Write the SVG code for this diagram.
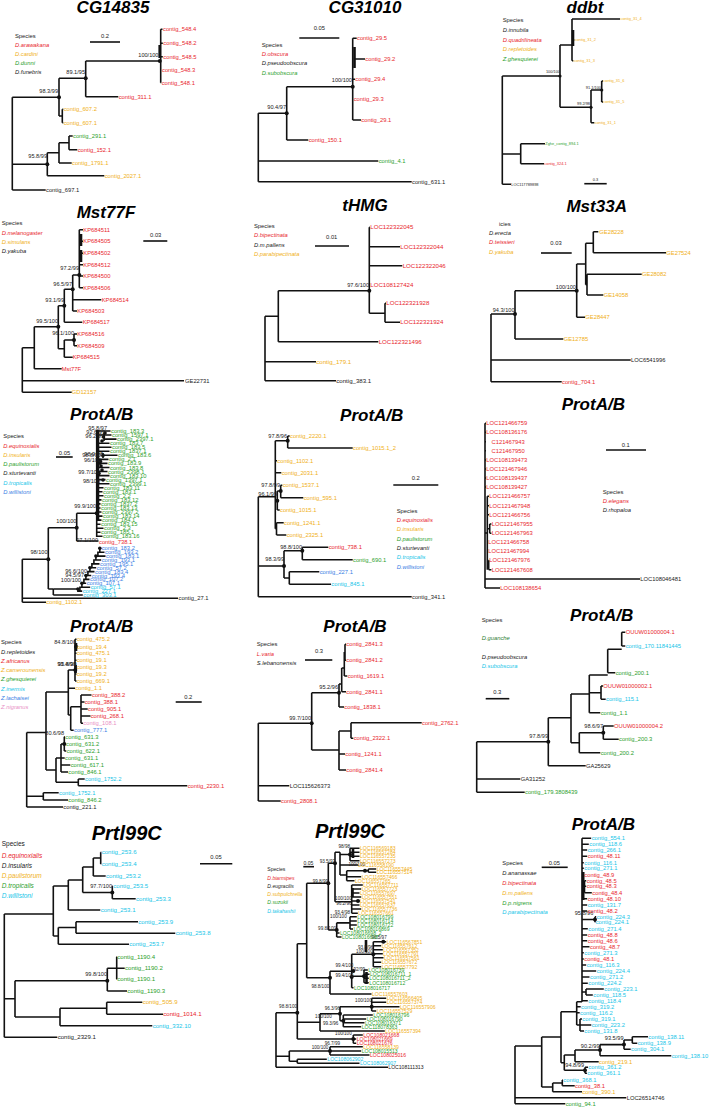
<svg xmlns="http://www.w3.org/2000/svg" width="710" height="1107" viewBox="0 0 710 1107">
<style>
text{font-family:"Liberation Sans",Arial,sans-serif;fill:#222}
.T{font-size:17px;font-weight:bold;font-style:italic;text-anchor:middle;fill:#000}
.T2{font-size:20px;font-weight:bold;font-style:italic;text-anchor:middle;fill:#000}
.L{font-size:5.8px}
.L6{font-size:6.1px}
.S{font-size:5.8px;font-style:italic}
.S6{font-size:6.5px;font-style:italic}
.H6{font-size:6.5px}
.n{font-size:5.6px;text-anchor:end}
.xs{font-size:3.9px}
.xn{font-size:3.9px;text-anchor:end}
.m{font-size:5.1px}
.mn{font-size:4.6px;text-anchor:end}
.sc{font-size:5.8px;text-anchor:middle}
.r{fill:#e8262d}.o{fill:#f0b020}.g{fill:#2ca02c}.c{fill:#17c5e8}.b{fill:#3a7ee4}.p{fill:#e98fc5}.k{fill:#222}.dg{fill:#2e7d32}
.e{fill:none;stroke:#111;stroke-width:1.6}
.th{fill:none;stroke:#111;stroke-width:2.6}
circle{fill:#111}
</style>

<!-- ===== Panel 1: CG14835 ===== -->
<g id="cg14835">
<text class="T" x="113" y="13">CG14835</text>
<text class="L" x="15" y="37.7">Species</text>
<text class="S r" x="15" y="46.7">D.arawakana</text>
<text class="S o" x="15" y="55.7">D.cardini</text>
<text class="S g" x="15" y="64.7">D.dunni</text>
<text class="S k" x="15" y="73.7">D.funebris</text>
<text class="sc" x="105" y="37.7">0.2</text>
<path class="e" d="M90 42H120"/>
<g class="conn">
<path class="e" d="M12.3 97.3V190M12.3 97.3H59M12.3 164.3H47.3M12.3 190H45.7M59 78.3V116M59 78.3H85.7M59 116H62.3M62.3 109.3V122.7M62.3 109.3H63.3M62.3 122.7H63.3M85.7 61V96.7M85.7 61H159.3M85.7 96.7H118.3M160.7 29.3V82.7M159.3 61H160.7M160.7 29.3H162.5M160.7 43.3H162.8M160.7 56.7H162.8M160.7 70H161.5M160.7 82.7H161.2M47.3 152.7V175.7M47.3 152.7H59M47.3 175.7H104.3M59 142.7V163M59 142.7H69M59 163H71.7M69 136V149.7M69 136H72.7M69 149.7H77.3"/>
<path class="th" d="M159.7 45V58"/>
<circle cx="59" cy="97.3" r="2"/><circle cx="85.7" cy="78.3" r="2"/><circle cx="159.8" cy="61" r="2"/><circle cx="47.3" cy="164.3" r="2"/>
</g>
<text class="n" x="158.5" y="57">100/100</text>
<text class="n" x="85" y="73.7">89.1/95</text>
<text class="n" x="58" y="92.7">98.3/99</text>
<text class="n" x="47" y="158">95.8/99</text>
<text class="L r" x="163" y="31.3">contig_548.4</text>
<text class="L r" x="163.3" y="45.3">contig_548.2</text>
<text class="L r" x="163.3" y="58.7">contig_548.5</text>
<text class="L r" x="162" y="72">contig_548.3</text>
<text class="L r" x="161.7" y="84.7">contig_548.1</text>
<text class="L r" x="118.7" y="98.7">contig_311.1</text>
<text class="L o" x="63.7" y="111.3">contig_607.2</text>
<text class="L o" x="63.7" y="124.7">contig_607.1</text>
<text class="L g" x="73" y="138">contig_291.1</text>
<text class="L r" x="77.7" y="151.7">contig_152.1</text>
<text class="L o" x="72" y="165">contig_1791.1</text>
<text class="L o" x="104.7" y="177.7">contig_2027.1</text>
<text class="L k" x="46" y="192">contig_697.1</text>
</g>

<!-- ===== Panel 2: CG31010 ===== -->
<g id="cg31010">
<text class="T" x="365" y="13">CG31010</text>
<text class="sc" x="319.3" y="30.3">0.05</text>
<path class="e" d="M299.3 38H339.3"/>
<text class="L" x="261.7" y="46.7">Species</text>
<text class="S r" x="261.7" y="56.3">D.obscura</text>
<text class="S k" x="261.7" y="65.3">D.pseudoobscura</text>
<text class="S g" x="261.7" y="74.7">D.subobscura</text>
<g class="conn">
<path class="e" d="M258.3 113.3V181.7M258.3 113.3H286.7M258.3 161H378.3M258.3 181.7H411.7M286.7 86.7V140M286.7 86.7H352.7M286.7 140H308.3M352.7 38.3V120M352.7 38.3H356.7M354 59H365M352.7 79.3H355M352.7 99.3H353.3M352.7 120H361"/>
<path class="th" d="M354.5 47V68"/>
<circle cx="286.7" cy="113.3" r="2"/><circle cx="352.7" cy="86.7" r="2"/>
</g>
<text class="n" x="352" y="82">100/100</text>
<text class="n" x="286" y="108.7">90.4/97</text>
<text class="L r" x="357" y="40.3">contig_29.5</text>
<text class="L r" x="365.3" y="61">contig_29.2</text>
<text class="L r" x="355.3" y="81.3">contig_29.4</text>
<text class="L r" x="353.7" y="101.3">contig_29.3</text>
<text class="L r" x="361.3" y="122">contig_29.1</text>
<text class="L r" x="308.7" y="142">contig_150.1</text>
<text class="L g" x="378.7" y="163">contig_4.1</text>
<text class="L k" x="412" y="183.7">contig_631.1</text>
</g>

<!-- ===== Panel 3: ddbt ===== -->
<g id="ddbt">
<text class="T" x="585" y="13">ddbt</text>
<text class="L" x="502.7" y="22">Species</text>
<text class="S k" x="502.7" y="32">D.innubila</text>
<text class="S r" x="502.7" y="42">D.quadrilineata</text>
<text class="S o" x="502.7" y="51.3">D.repletoides</text>
<text class="S g" x="502.7" y="61.3">Z.ghesquierei</text>
<g class="conn">
<path class="e" d="M502.3 76V184.3M502.3 76H560M502.3 154H520.7M502.3 184.3H511M560 45V107.3M560 45H572M560 107.3H591M572 19V60.7M572 19H620M572 40H574.3M572 60.7H573.3M591 90V122.7M591 90H601.7M591 122.7H594.3M601.7 81V102M601.7 81H603M601.7 102H603M520.7 143.7V163.7M520.7 143.7H545M520.7 163.7H544"/>
<path class="th" d="M573 30V46"/>
<circle cx="560" cy="76" r="1.6"/><circle cx="591" cy="107.3" r="1.6"/><circle cx="601.7" cy="90" r="1.6"/>
</g>
<text class="xn" x="560" y="73">100/100</text>
<text class="xn" x="590" y="104.5">99.2/98</text>
<text class="xn" x="601" y="88.5">91.1/100</text>
<text class="xs o" x="620.5" y="20.3">contig_31_4</text>
<text class="xs o" x="574.7" y="41.3">contig_31_2</text>
<text class="xs o" x="573.7" y="62">contig_31_3</text>
<text class="xs o" x="603.3" y="82.3">contig_31_6</text>
<text class="xs o" x="603.3" y="103.3">contig_31_5</text>
<text class="xs o" x="594.7" y="124">contig_31_1</text>
<text class="xs g" x="545.3" y="145">Zghe_contig_894.1</text>
<text class="xs r" x="544.3" y="165">contig_324.1</text>
<text class="xs k" x="511.3" y="185.7">LOC117789898</text>
<text class="xs" x="595.5" y="181.3" text-anchor="middle">0.3</text>
<path class="e" d="M584.3 183.7H606.7"/>
</g>

<!-- ===== Panel 4: Mst77F ===== -->
<g id="mst77f">
<text class="T" x="106" y="218">Mst77F</text>
<text class="L" x="1.7" y="225.3">Species</text>
<text class="S r" x="1.7" y="234.7">D.melanogaster</text>
<text class="S o" x="1.7" y="243.7">D.simulans</text>
<text class="S k" x="1.7" y="253">D.yakuba</text>
<text class="sc" x="155.7" y="237">0.03</text>
<path class="e" d="M143.3 241H167.3"/>
<g class="conn">
<path class="e" d="M22.3 347.7V392.3M22.3 347.7H34.3M22.3 380.7H184M22.3 392.3H71.7M34.3 326.7V368.7M34.3 326.7H58.3M34.3 368.7H61.7M58.3 305.7V348.7M58.3 305.7H64.3M58.3 348.7H64.3M64.3 340V357.3M64.3 340H74M64.3 357.3H72.7M74 334V345.7M74 334H77M74 345.7H77M64.3 289.3V322.3M64.3 289.3H72.7M64.3 322.3H82.3M72.7 275V311M72.7 275H79.3M72.7 299.7H101.3M72.7 311H77M79.3 229.7V287.7M79.3 229.7H83M79.3 241.3H83M79.3 253.3H83M79.3 264.7H83M79.3 276H83M79.3 287.7H83"/>
<path class="th" d="M81 234V246M81 250V262"/>
<circle cx="79.3" cy="275" r="2"/><circle cx="72.7" cy="289.3" r="2"/><circle cx="64.3" cy="305.7" r="2"/><circle cx="58.3" cy="326.7" r="2"/><circle cx="74" cy="340" r="2"/>
</g>
<text class="n" x="79" y="269.7">97.2/99</text>
<text class="n" x="72" y="286.3">96.5/97</text>
<text class="n" x="64" y="302">93.1/99</text>
<text class="n" x="58" y="323">99.5/100</text>
<text class="n" x="74" y="335.3">96.1/100</text>
<text class="L r" x="83.3" y="231.7">KP684511</text>
<text class="L r" x="83.3" y="243.3">KP684505</text>
<text class="L r" x="83.3" y="255.3">KP684502</text>
<text class="L r" x="83.3" y="266.7">KP684512</text>
<text class="L r" x="83.3" y="278">KP684500</text>
<text class="L r" x="83.3" y="289.7">KP684506</text>
<text class="L r" x="101.7" y="301.7">KP684514</text>
<text class="L r" x="77.3" y="313">KP684503</text>
<text class="L r" x="82.7" y="324.3">KP684517</text>
<text class="L r" x="77.3" y="336">KP684516</text>
<text class="L r" x="77.3" y="347.7">KP684509</text>
<text class="L r" x="72.7" y="359.3">KP684515</text>
<text class="L r" x="61.7" y="370.7">Mst77F</text>
<text class="L k" x="185" y="382.7">GE22731</text>
<text class="L o" x="71.7" y="394.3">GD12157</text>
</g>

<!-- ===== Panel 5: tHMG ===== -->
<g id="thmg">
<text class="T" x="365" y="211">tHMG</text>
<text class="L" x="254" y="227.7">Species</text>
<text class="S r" x="254" y="237">D.bipectinata</text>
<text class="S k" x="254" y="246.7">D.m.pallens</text>
<text class="S o" x="254" y="255.7">D.parabipectinata</text>
<text class="sc" x="331.7" y="239">0.01</text>
<path class="e" d="M315 246H349"/>
<g class="conn">
<path class="e" d="M265 316.2V380.7M265 316.2H278.3M265 361.7H316M265 380.7H336M278.3 290.7V341.7M278.3 290.7H369.3M278.3 341.7H378.3M369.3 227.3V313.3M369.3 227.3H370M369.3 246.7H400M369.3 265.7H402.3M369.3 285H370M369.3 313.3H385M385 303.3V322.3M385 303.3H386M385 322.3H400"/>
<circle cx="369.3" cy="290.7" r="2"/>
</g>
<text class="n" x="369" y="287">97.6/100</text>
<text class="L6 r" x="370.3" y="229.3">LOC122322045</text>
<text class="L6 r" x="400.3" y="248.7">LOC122322044</text>
<text class="L6 r" x="402.7" y="267.7">LOC122322046</text>
<text class="L6 r" x="370.3" y="287">LOC108127424</text>
<text class="L6 r" x="386.3" y="305.3">LOC122321928</text>
<text class="L6 r" x="400.3" y="324.3">LOC122321924</text>
<text class="L6 r" x="378.7" y="343.7">LOC122321496</text>
<text class="L6 o" x="316.3" y="363.7">contig_179.1</text>
<text class="L6 k" x="336.3" y="382.7">contig_383.1</text>
</g>

<!-- ===== Panel 6: Mst33A ===== -->
<g id="mst33a">
<text class="T" x="596.7" y="211.7">Mst33A</text>
<text class="L" x="499" y="226">icies</text>
<text class="S k" x="489" y="235.3">D.erecta</text>
<text class="S r" x="489" y="244.3">D.teissieri</text>
<text class="S o" x="489" y="253.7">D.yakuba</text>
<text class="sc" x="556" y="244.7">0.03</text>
<path class="e" d="M541 253H571.7"/>
<g class="conn">
<path class="e" d="M491 314V381.7M491 314H515M491 360H630.7M491 381.7H561.7M515 290.7V339M515 290.7H576.7M515 339H563.3M576.7 264V317.3M576.7 264H585.7M576.7 317.3H585M585.7 243.3V284.7M585.7 243.3H593.3M585.7 284.7H587M587 274.3V295M587 274.3H641.7M587 295H603.3M593.3 231.7V252.7M593.3 231.7H598.3M593.3 252.7H666"/>
<circle cx="576.7" cy="290.7" r="2"/><circle cx="515" cy="314" r="2"/>
</g>
<text class="n" x="576" y="288.5">100/100</text>
<text class="n" x="514.5" y="312">94.3/100</text>
<text class="L o" x="599.3" y="233.7">GE28228</text>
<text class="L o" x="666.3" y="254.7">GE27524</text>
<text class="L o" x="642" y="276.3">GE28082</text>
<text class="L o" x="603.7" y="297">GE14058</text>
<text class="L o" x="585.3" y="319.3">GE28447</text>
<text class="L o" x="563.7" y="341">GE12785</text>
<text class="L k" x="631" y="362">LOC6541996</text>
<text class="L r" x="562" y="383.7">contig_704.1</text>
</g>

<!-- ===== Panel 7: ProtA/B (dense) ===== -->
<g id="prota-b-1">
<text class="T" x="101.7" y="420">ProtA/B</text>
<text class="L" x="3.3" y="438.3">Species</text>
<text class="S r" x="3.3" y="447.7">D.equinoxialis</text>
<text class="S o" x="3.3" y="457">D.insularis</text>
<text class="S g" x="3.3" y="466">D.paulistorum</text>
<text class="S k" x="3.3" y="475.3">D.sturtevanti</text>
<text class="S c" x="3.3" y="484.7">D.tropicalis</text>
<text class="S b" x="3.3" y="493.7">D.willistoni</text>
<text class="sc" x="64.5" y="455">0.05</text>
<path class="e" d="M56 457H72.7"/>
<g class="conn">
<path class="e" d="M22.3 559.3V602.3M22.3 559.3H48.3M22.3 598.3H178M22.3 602.3H46M48.3 527.7V589M48.3 527.7H76.7M48.3 589H53.3M76.7 513.3V541M76.7 513.3H96.7M76.7 541H98.5M96.7 430V537"/>
<path class="e" d="M96.7 431H110.5M96.7 435H111.5M104 439.1H116.5M96.7 443.2H109.5M96.7 447.2H111.5M96.7 451.3H109.5M103 455.3H117.5M96.7 459.4H108.5M96.7 463.4H107.5M96.7 467.5H109.5M96.7 471.5H107.5M96.7 475.6H109.5M96.7 479.6H105.5M96.7 483.7H109.5M96.7 487.7H103.5M96.7 491.8H102.5M96.7 495.8H103.5M96.7 499.9H101.5M96.7 503.9H100.5M96.7 508H100.5M96.7 512H101.5M96.7 516.1H102.5M96.7 520.1H101.5M96.7 524.2H100.5M96.7 528.2H103.5M96.7 532.3H100.5M96.7 536.3H102.5M104 433V441M103 453V458M100 459V465"/>
<path class="th" d="M98 430V520"/>
<path class="e" d="M99.8 548.3V552.2H97.9V556.1H95.9V560H93.9V563.9H91.9V567.8H89.9V571.6H87.9V575.5H85.9V579.4H83.9V583.3H81.9V587.2H79.9V591.1H77.9V589M53.3 589V595M53.3 589H77.9M53.3 595H82.8M99.8 548.3H101.2M97.9 552.2H104.5M95.9 556.1H105.5M93.9 560H101.2M91.9 563.9H99.5M89.9 567.8H96.2M87.9 571.6H94.5M85.9 575.5H91.2M83.9 579.4H89.5M81.9 583.3H86.2M79.9 587.2H90.2M77.9 591.1H82.2"/>
<circle cx="105" cy="433" r="1.8"/><circle cx="103.5" cy="437" r="1.8"/><circle cx="102" cy="441" r="1.8"/><circle cx="103" cy="455.5" r="1.8"/><circle cx="100.5" cy="461.5" r="1.8"/><circle cx="101" cy="466" r="1.8"/><circle cx="102" cy="470" r="1.8"/><circle cx="99" cy="473.5" r="1.8"/><circle cx="103" cy="480" r="1.8"/><circle cx="96.7" cy="513.3" r="2"/><circle cx="76.7" cy="527.7" r="2"/><circle cx="48.3" cy="559.3" r="2"/><circle cx="99.8" cy="548.3" r="1.8"/><circle cx="95.9" cy="556.1" r="1.8"/><circle cx="89.9" cy="567.8" r="1.8"/><circle cx="85.9" cy="575.5" r="1.8"/><circle cx="81.9" cy="583.3" r="1.8"/><circle cx="77.9" cy="589" r="1.8"/>
</g>
<text class="n" x="107" y="430">95.8/97</text>
<text class="n" x="105" y="434">92.6/99</text>
<text class="n" x="104" y="438">96.2/99</text>
<text class="n" x="103" y="456">98.9/98</text>
<text class="n" x="104" y="456.5">98.8/100</text>
<text class="n" x="101" y="462">96/100</text>
<text class="n" x="100" y="474">99.7/100</text>
<text class="n" x="100" y="483">98/100</text>
<text class="n" x="96" y="507.5">99.9/100</text>
<text class="n" x="76.5" y="522.5">100/100</text>
<text class="n" x="98" y="542">97.1/100</text>
<text class="n" x="47.5" y="554">98/100</text>
<text class="n" x="87" y="573">96.6/100</text>
<text class="n" x="84" y="577">94.5/97</text>
<text class="n" x="81" y="581.5">100/100</text>
<text class="L g" x="111" y="433">contig_183.3</text>
<text class="L g" x="112" y="437">contig_1597.1</text>
<text class="L g" x="117" y="441.1">contig_2397.1</text>
<text class="L g" x="110" y="445.2">contig_183.7</text>
<text class="L g" x="112" y="449.2">contig_183.5</text>
<text class="L g" x="110" y="453.3">contig_1837.1</text>
<text class="L g" x="118" y="457.3">contig_183.6</text>
<text class="L g" x="109" y="461.4">contig_2.1</text>
<text class="L g" x="108" y="465.4">contig_183.9</text>
<text class="L g" x="110" y="469.5">contig_183.8</text>
<text class="L g" x="108" y="473.5">contig_2398.1</text>
<text class="L g" x="110" y="477.6">contig_183.10</text>
<text class="L g" x="106" y="481.6">contig_1397.1</text>
<text class="L g" x="110" y="485.7">contig_2399.1</text>
<text class="L g" x="104" y="489.7">contig_183.11</text>
<text class="L g" x="103" y="493.8">contig_183.1</text>
<text class="L g" x="104" y="497.8">contig_2.2</text>
<text class="L g" x="102" y="501.9">contig_183.12</text>
<text class="L g" x="101" y="505.9">contig_1837.2</text>
<text class="L g" x="101" y="510">contig_183.13</text>
<text class="L g" x="102" y="514">contig_2397.2</text>
<text class="L g" x="103" y="518.1">contig_183.14</text>
<text class="L g" x="102" y="522.1">contig_184.1</text>
<text class="L g" x="101" y="526.2">contig_183.15</text>
<text class="L g" x="104" y="530.2">contig_2.3</text>
<text class="L g" x="101" y="534.3">contig_185.1</text>
<text class="L g" x="103" y="538.3">contig_183.16</text>
<text class="L r" x="99" y="543.5">contig_738.1</text>
<text class="L b" x="101.7" y="550.3">contig_183.2</text>
<text class="L b" x="105" y="554.2">contig_193.2</text>
<text class="L b" x="106" y="558.1">contig_183.1</text>
<text class="L b" x="101.7" y="562">contig_193.1</text>
<text class="L b" x="100" y="565.9">contig_195.1</text>
<text class="L b" x="96.7" y="569.8">contig_57.2</text>
<text class="L b" x="95" y="573.6">contig_183.4</text>
<text class="L b" x="91.7" y="577.5">contig_193.4</text>
<text class="L b" x="90" y="581.4">contig_107.2</text>
<text class="L b" x="86.7" y="585.3">contig_107.1</text>
<text class="L c" x="90.7" y="589.2">contig_57.1</text>
<text class="L c" x="82.7" y="593.1">contig_227.1</text>
<text class="L c" x="83.3" y="597">contig_303.1</text>
<text class="L k" x="178.5" y="600.3">contig_27.1</text>
<text class="L o" x="46.3" y="604.3">contig_1102.1</text>
</g>

<!-- ===== Panel 8: ProtA/B (middle) ===== -->
<g id="prota-b-2">
<text class="T" x="371.7" y="421">ProtA/B</text>
<text class="L" x="396.7" y="512.7">Species</text>
<text class="S r" x="396.7" y="522">D.equinoxialis</text>
<text class="S o" x="396.7" y="531.3">D.insularis</text>
<text class="S g" x="396.7" y="541">D.paulistorum</text>
<text class="S k" x="396.7" y="550">D.sturtevanti</text>
<text class="S c" x="396.7" y="559.3">D.tropicalis</text>
<text class="S b" x="396.7" y="568.7">D.willistoni</text>
<text class="sc" x="415.7" y="480.3">0.2</text>
<path class="e" d="M393.3 485H438.3"/>
<g class="conn">
<path class="e" d="M258.3 496.7V596.7M258.3 496.7H275.3M258.3 566H284M258.3 596.7H411.7M275.3 440.7V528.7M275.3 440.7H287.7M275.3 460.7H277M275.3 472.7H281.3M275.3 500.7H277.3M280.7 485.3V497.7M280.7 485.3H282.3M280.7 497.7H303.3M277.3 491V510M277.3 491H280.7M277.3 510H279.7M275.3 528.7H276.5M276.5 522.7V535M276.5 522.7H283.7M276.5 535H286.3M287.7 436V448M287.7 436H289.7M287.7 448H352.7M284 550.7V578M284 550.7H302.3M284 578H289.3M302.3 547.3V559.7M302.3 547.3H328.3M302.3 559.7H352.7M289.3 571.7V584.3M289.3 571.7H319.3M289.3 584.3H331"/>
<circle cx="287.7" cy="440.7" r="2"/><circle cx="280.7" cy="491" r="2"/><circle cx="277.3" cy="500.7" r="2"/><circle cx="302.3" cy="550.7" r="2"/><circle cx="284" cy="566" r="2"/>
</g>
<text class="n" x="287" y="438">97.8/96</text>
<text class="n" x="280" y="487">97.8/99</text>
<text class="n" x="277" y="496.3">96.1/99</text>
<text class="n" x="302" y="548.5">98.8/100</text>
<text class="n" x="284" y="561">98.3/99</text>
<text class="L o" x="290" y="438">contig_2220.1</text>
<text class="L o" x="353" y="450">contig_1015.1_2</text>
<text class="L o" x="277.3" y="462.7">contig_1102.1</text>
<text class="L o" x="281.7" y="474.7">contig_2031.1</text>
<text class="L o" x="282.7" y="487.3">contig_1537.1</text>
<text class="L o" x="303.7" y="499.7">contig_595.1</text>
<text class="L o" x="280" y="512">contig_1015.1</text>
<text class="L o" x="284" y="524.7">contig_1241.1</text>
<text class="L o" x="286.7" y="537">contig_2325.1</text>
<text class="L r" x="328.7" y="549.3">contig_738.1</text>
<text class="L g" x="353" y="561.7">contig_690.1</text>
<text class="L b" x="319.7" y="573.7">contig_227.1</text>
<text class="L c" x="331.3" y="586.3">contig_845.1</text>
<text class="L k" x="412" y="598.7">contig_341.1</text>
</g>

<!-- ===== Panel 9: ProtA/B (right) ===== -->
<g id="prota-b-3">
<text class="T" x="593.3" y="410">ProtA/B</text>
<text class="sc" x="625.7" y="447.3">0.1</text>
<path class="e" d="M606 450H646"/>
<text class="L" x="602.7" y="493.7">Species</text>
<text class="S r" x="602.7" y="503.3">D.elegans</text>
<text class="S k" x="602.7" y="512.3">D.rhopaloa</text>
<g class="conn">
<path class="e" d="M485 423.3V588M485 423.3H486M485 432.3H486M485 441.7H486M485 450.7H486M485 460H486M485 469H486M485 478H486M485 487H486M485 533H487.3M487.3 496.3V569.7M487.3 496.3H489M487.3 505.7H489M487.3 514.7H489M487.3 528.7H489.7M489.7 524V533.3M489.7 524H491.4M489.7 533.3H491.4M487.3 542.3H488M487.3 551.3H488M487.3 565H488.7M488.7 560.3V569.7M488.7 560.3H489M488.7 569.7H491.4M485 579H640M485 588H500"/>
</g>
<text class="L r" x="486.3" y="425.3">LOC121466759</text>
<text class="L r" x="486.3" y="434.3">LOC108136176</text>
<text class="L r" x="491.5" y="443.7">C121467943</text>
<text class="L r" x="491.5" y="452.7">C121467950</text>
<text class="L r" x="486.3" y="462">LOC108139473</text>
<text class="L r" x="486.3" y="471">LOC121467946</text>
<text class="L r" x="486.3" y="480">LOC108139437</text>
<text class="L r" x="486.3" y="489">LOC108139427</text>
<text class="L r" x="489.3" y="498.3">LOC121466757</text>
<text class="L r" x="489.3" y="507.7">LOC121467948</text>
<text class="L r" x="489.3" y="516.7">LOC121466756</text>
<text class="L r" x="491.7" y="526">LOC121467955</text>
<text class="L r" x="491.7" y="535.3">LOC121467963</text>
<text class="L r" x="488.3" y="544.3">LOC121466758</text>
<text class="L r" x="488.3" y="553.3">LOC121467994</text>
<text class="L r" x="489.3" y="562.3">LOC121467976</text>
<text class="L r" x="491.7" y="571.7">LOC121467608</text>
<text class="L k" x="640.3" y="581">LOC108046481</text>
<text class="L r" x="500.3" y="590">LOC108138654</text>
</g>

<!-- ===== Panel 10: ProtA/B (row 4 left) ===== -->
<g id="prota-b-4">
<text class="T" x="101.7" y="631.7">ProtA/B</text>
<text class="L" x="1" y="644">Species</text>
<text class="S k" x="1" y="653.7">D.repletoides</text>
<text class="S r" x="1" y="662.7">Z.africanus</text>
<text class="S o" x="1" y="672.3">Z.camerounensis</text>
<text class="S g" x="1" y="681.3">Z.ghesquierei</text>
<text class="S c" x="1" y="690.7">Z.inermis</text>
<text class="S b" x="1" y="699.7">Z.lachaisei</text>
<text class="S p" x="1" y="709">Z.nigranus</text>
<text class="sc" x="188.3" y="699.3">0.2</text>
<path class="e" d="M175.7 702H201.7"/>
<g class="conn">
<path class="e" d="M26.7 732.5V807M26.7 732.5H46M26.7 796.3H43.3M26.7 807H63M43.3 792.7V800M43.3 792.7H58.7M43.3 800H68M46 692V770M46 692H68.3M46 770H56M56 758V782.3M56 758H61M56 782.3H78.3M78.3 779V785.7M78.3 779H84.7M78.3 785.7H187.3M61 744V772M61 744H64.3M61 758H64.7M61 765H70.3M61 772H68M64.3 736.7V751M64.3 736.7H65M64.3 751H66.3M68.3 670V715M68.3 670H75M68.3 688.3H75M68.3 715H70.7M75 639.3V681M75 639.3H76.5M75 646.7H76.5M75 653.3H76.5M75 660.3H76.5M75 667.3H76.5M75 674H76.5M75 681H76.5M70.7 706.7V730.3M70.7 706.7H81M70.7 730.3H73.7M81 695V723.3M81 695H91.5M81 702H84.5M81 709H87.7M81 716H90.5M81 723.3H83"/>
<path class="th" d="M76 643V651M75.6 665V673"/>
<circle cx="76" cy="646.7" r="2"/><circle cx="75.3" cy="670" r="2"/><circle cx="64.3" cy="744" r="2"/>
</g>
<text class="n" x="76" y="643.5">84.8/100</text>
<text class="n" x="76" y="666">93.4/98</text>
<text class="n" x="76.6" y="665.6">95.8/99</text>
<text class="n" x="64" y="735.3">80.6/98</text>
<text class="L o" x="76.7" y="641.3">contig_475.2</text>
<text class="L o" x="76.7" y="648.7">contig_19.4</text>
<text class="L o" x="76.7" y="655.3">contig_475.1</text>
<text class="L o" x="76.7" y="662.3">contig_19.1</text>
<text class="L o" x="76.7" y="669.3">contig_19.3</text>
<text class="L o" x="76.7" y="676">contig_19.2</text>
<text class="L o" x="76.7" y="683">contig_669.1</text>
<text class="L o" x="75.3" y="690.3">contig_1.1</text>
<text class="L r" x="92" y="697">contig_388.2</text>
<text class="L r" x="84.7" y="704">contig_388.1</text>
<text class="L r" x="88" y="711">contig_905.1</text>
<text class="L r" x="90.7" y="718">contig_268.1</text>
<text class="L p" x="83.3" y="725.3">contig_108.1</text>
<text class="L b" x="74" y="732.3">contig_777.1</text>
<text class="L g" x="65.3" y="738.7">contig_631.3</text>
<text class="L g" x="66" y="746">contig_631.2</text>
<text class="L g" x="66.7" y="753">contig_622.1</text>
<text class="L g" x="65" y="760">contig_631.1</text>
<text class="L g" x="70.7" y="767">contig_617.1</text>
<text class="L g" x="68.3" y="774">contig_846.1</text>
<text class="L c" x="85" y="781">contig_1752.2</text>
<text class="L r" x="187.7" y="787.7">contig_2230.1</text>
<text class="L c" x="59" y="794.7">contig_1752.1</text>
<text class="L g" x="68.3" y="802">contig_846.2</text>
<text class="L k" x="63.3" y="809">contig_221.1</text>
</g>

<!-- ===== Panel 11: ProtA/B (row 4 middle) ===== -->
<g id="prota-b-5">
<text class="T" x="355" y="631.7">ProtA/B</text>
<text class="L" x="256.7" y="646.3">Species</text>
<text class="S r" x="256.7" y="656">L.varia</text>
<text class="S k" x="256.7" y="665.3">S.lebanonensis</text>
<text class="sc" x="319" y="653">0.3</text>
<path class="e" d="M305 660H332.3"/>
<g class="conn">
<path class="e" d="M258.3 723.3V801M258.3 723.3H311.7M258.3 785.7H289.3M258.3 801H280.7M311.7 692.7V750M311.7 692.7H339M311.7 750H339M339 684V707M339 707H344M339 684H341.7M341.7 668V691.7M341.7 691.7H346M341.7 668H344.3M344.3 652V676M344.3 676H347.3M344.3 652H345M345 644.3V660.3M345 644.3H346M345 660.3H346M339 731V770M339 731H351M339 754H345M339 770H346M351 722.7V738.3M351 722.7H421.7M351 738.3H353.3"/>
<circle cx="339" cy="692.7" r="2"/><circle cx="311.7" cy="723.3" r="2"/>
</g>
<text class="n" x="338" y="689">95.2/96</text>
<text class="n" x="311" y="719.5">99.7/100</text>
<text class="L r" x="346.3" y="646.3">contig_2841.3</text>
<text class="L r" x="346.3" y="662.3">contig_2841.2</text>
<text class="L r" x="347.7" y="678">contig_1619.1</text>
<text class="L r" x="346.3" y="693.7">contig_2841.1</text>
<text class="L r" x="344.3" y="709">contig_1838.1</text>
<text class="L r" x="422" y="724.7">contig_2762.1</text>
<text class="L r" x="353.7" y="740.3">contig_2322.1</text>
<text class="L r" x="345.3" y="756">contig_1241.1</text>
<text class="L r" x="346.3" y="772">contig_2841.4</text>
<text class="L k" x="289.7" y="787.7">LOC115626373</text>
<text class="L r" x="281" y="803">contig_2808.1</text>
</g>

<!-- ===== Panel 12: ProtA/B (row 4 right) ===== -->
<g id="prota-b-6">
<text class="T" x="601.7" y="621">ProtA/B</text>
<text class="L" x="481.7" y="621.7">Species</text>
<text class="S dg" x="481.7" y="640.3">D.guanche</text>
<text class="S k" x="481.7" y="658.7">D.pseudoobscura</text>
<text class="S c" x="481.7" y="667.7">D.subobscura</text>
<text class="sc" x="497.3" y="693.7">0.3</text>
<path class="e" d="M485.7 698.7H509.3"/>
<g class="conn">
<path class="e" d="M476.7 741.7V792.3M476.7 741.7H548.3M476.7 779H520.3M476.7 792.3H524.7M548.3 717.7V765.7M548.3 717.7H571M548.3 765.7H585.7M571 694V742.7M571 694H589.3M571 742.7H579.3M579.3 732.7V752.7M579.3 732.7H603.3M579.3 752.7H600.3M603.3 726V739.3M603.3 726H613.7M603.3 739.3H618.7M589.3 675V712.7M589.3 675H607.7M589.3 692.7H601M589.3 712.7H600.3M601 686V699.3M601 686H603M601 699.3H605.7M607.7 649.3V672.7M607.7 649.3H621.7M607.7 672.7H615.3M621.7 632.3V646M621.7 632.3H625.3M621.7 646H625.3"/>
<circle cx="603.3" cy="732.7" r="2"/><circle cx="548.3" cy="741.7" r="2"/>
</g>
<text class="n" x="603" y="728">98.6/97</text>
<text class="n" x="548" y="737.5">97.8/99</text>
<text class="L r" x="625.7" y="634.3">OUUW01000004.1</text>
<text class="L c" x="625.7" y="648">contig_170.11841445</text>
<text class="L g" x="615.7" y="674.7">contig_200.1</text>
<text class="L r" x="603.3" y="688">OUUW01000002.1</text>
<text class="L c" x="606" y="701.3">contig_115.1</text>
<text class="L g" x="600.7" y="714.7">contig_1.1</text>
<text class="L r" x="614" y="728">OUUW01000004.2</text>
<text class="L g" x="619" y="741.3">contig_200.3</text>
<text class="L g" x="600.7" y="754.7">contig_200.2</text>
<text class="L k" x="586" y="767.7">GA25629</text>
<text class="L k" x="520.7" y="781">GA31252</text>
<text class="L g" x="525" y="794.3">contig_179.3808439</text>
</g>

<!-- ===== Panel 13: Prtl99C (left) ===== -->
<g id="prtl99c-1">
<text class="T2" x="126.7" y="840">Prtl99C</text>
<text class="H6" x="1.7" y="846.3">Species</text>
<text class="S6 r" x="1.7" y="857.7">D.equinoxialis</text>
<text class="S6 k" x="1.7" y="867.7">D.insularis</text>
<text class="S6 o" x="1.7" y="878">D.paulistorum</text>
<text class="S6 g" x="1.7" y="888">D.tropicalis</text>
<text class="S6 c" x="1.7" y="898">D.willistoni</text>
<text class="sc" x="216" y="859.3">0.05</text>
<path class="e" d="M200 863.7H232.3"/>
<g class="conn">
<path class="e" d="M4.3 914V1037.3M4.3 914H53.3M4.3 998.7H15M4.3 1037.3H57.3M53.3 886V936M53.3 886H68.3M53.3 936H58.3M68.3 880V910M68.3 880H82.7M68.3 910H100.3M82.7 867V892.5M82.7 867H93.3M82.7 892.5H112.3M93.3 858V876M93.3 858H100.7M93.3 876H105.7M100.7 852.3V864M100.7 852.3H101.3M100.7 864H101.3M112.3 886.3V898.7M112.3 886.3H113M112.3 898.7H135.7M58.3 927.5V944.3M58.3 927.5H76M58.3 944.3H129M76 921.7V933.3M76 921.7H138M76 933.3H175.3M15 980.7V1017M15 980.7H107.3M15 1017H60M107.3 968.3V991M107.3 968.3H116.7M107.3 991H127M116.7 956.7V979.3M116.7 956.7H117M116.7 968.3H124.7M116.7 979.3H117M60 1008.3V1025.7M60 1008.3H106.7M60 1025.7H152.3M106.7 1002.3V1014.3M106.7 1002.3H142.3M106.7 1014.3H163"/>
<circle cx="112.3" cy="892.5" r="2"/><circle cx="107.3" cy="980.7" r="2"/>
</g>
<text class="n" x="112" y="888">97.7/100</text>
<text class="n" x="107" y="975.5">99.8/100</text>
<text class="L6 c" x="101.7" y="854.3">contig_253.6</text>
<text class="L6 c" x="101.7" y="866">contig_253.4</text>
<text class="L6 c" x="106" y="878">contig_253.2</text>
<text class="L6 c" x="113.3" y="888.3">contig_253.5</text>
<text class="L6 c" x="136" y="900.7">contig_253.3</text>
<text class="L6 c" x="100.7" y="912">contig_253.1</text>
<text class="L6 c" x="138.3" y="923.7">contig_253.9</text>
<text class="L6 c" x="175.7" y="935.3">contig_253.8</text>
<text class="L6 c" x="129.3" y="946.3">contig_253.7</text>
<text class="L6 g" x="117.3" y="958.7">contig_1190.4</text>
<text class="L6 g" x="125" y="970.3">contig_1190.2</text>
<text class="L6 g" x="117.3" y="981.3">contig_1190.1</text>
<text class="L6 g" x="127.3" y="993">contig_1190.3</text>
<text class="L6 o" x="142.7" y="1004.3">contig_505.9</text>
<text class="L6 r" x="163.3" y="1016.3">contig_1014.1</text>
<text class="L6 c" x="152.7" y="1027.7">contig_332.10</text>
<text class="L6 k" x="57.7" y="1039.3">contig_2329.1</text>
</g>

<!-- ===== Panel 14: Prtl99C (dense) ===== -->
<g id="prtl99c-2">
<text class="T2" x="350" y="837.7">Prtl99C</text>
<text class="m" x="267.3" y="871.1">Species</text>
<text class="m r" x="267.3" y="879.5" font-style="italic">D.biarmipes</text>
<text class="m k" x="267.3" y="887.8" font-style="italic">D.eugracilis</text>
<text class="m o" x="267.3" y="896.1" font-style="italic">D.subpulchrella</text>
<text class="m g" x="267.3" y="904.1" font-style="italic">D.suzukii</text>
<text class="m c" x="267.3" y="912.5" font-style="italic">D.takahashii</text>
<text class="m" x="308.5" y="864.8" text-anchor="middle">0.05</text>
<path class="e" d="M303.3 866.7H314"/>
<g class="conn">
<path class="e" d="M276 1012.7V1067.3M276 1012.7H297.3M276 1056.3H289.3M276 1067.3H388M297.3 943.7V1039M297.3 943.7H306.7M297.3 1022.3H320M297.3 1039H353.3M306.7 883.3V977.7M306.7 883.3H328.3M306.7 977.7H330M328.3 863.3V930M328.3 863.3H335M328.3 930H336.7M335 852.3V901.7M335 852.3H340M335 901.7H351.7M340 852.3V875M340 854.5H350M340 865H358M340 875H346.7M350 848.3V860.7M350 848.3H359.5M350 852.3H359.5M350 856.3H359.5M350 860.7H359.5M346.7 870.7V880.7M346.7 870.7H368.3M346.7 876.7H361.2M346.7 880.7H354.5M368.3 869V872.3M368.3 869H376.2M368.3 872.3H376.2M351.7 885V913.3M351.7 885H362.8M351.7 889H361.2M351.7 893H359.5M351.7 897H361.2M351.7 901H359.5M351.7 905H359.5M351.7 909H361.2M351.7 913.3H357.8M336.7 922.7V937M336.7 922.9H350M336.7 933H339.5M336.7 937H341.5M350 916.7V929M350 916.7H356.8M350 921H356.8M350 925H356.8M350 929H353M330 971.3V994M330 971.3H351.7M330 994H371.5M351.7 954.2V987.7M351.7 954.2H373.3M351.7 976.3H364M351.7 987.7H353.5M373.3 941.7V966.7M373.3 941.7H386.2M373.3 945.7H381.2M373.3 949.7H382.8M373.3 953.7H382.8M373.3 957.7H383.5M373.3 962.3H381.2M373.3 966.7H381.2M364 970V982.7M364 970H367.8M364 974.3H369.5M364 978.3H368.8M364 982.7H368.8M320 1013.7V1031M320 1013.7H340M320 1031H384.8M340 1006.7V1020.8M340 1006.7H371.7M340 1020.8H343.3M371.7 998.3V1011M371.7 998.3H386.2M371.7 1002.3H386.2M371.7 1006.7H399.5M371.7 1011H376.2M343.3 1015V1026.7M343.3 1015H372.8M343.3 1019H366.2M343.3 1022.7H364.5M343.3 1026.7H361.2M353.3 1035V1043.3M353.3 1035H362.8M353.3 1039H356.2M353.3 1043.3H356.2M289.3 1051V1061.3M289.3 1051H330M289.3 1061.3H297.3M330 1046.7V1055M330 1046.7H362.8M330 1051H361.2M330 1055H369.5M297.3 1059.3V1063.3M297.3 1059.3H326.8M297.3 1063.3H359.5"/>
<path class="th" d="M353 848V858M352.5 888V897M366 940V952M366.5 972V984"/>
<circle cx="297.3" cy="1012.7" r="2"/><circle cx="328.3" cy="883.3" r="2"/><circle cx="335" cy="863.3" r="2"/><circle cx="350" cy="854.5" r="2"/><circle cx="336.7" cy="930" r="2"/><circle cx="383.3" cy="941.7" r="2"/><circle cx="373.3" cy="954.2" r="2"/><circle cx="353.3" cy="971" r="2"/><circle cx="351.7" cy="977" r="2"/><circle cx="364" cy="976.3" r="2"/><circle cx="330" cy="977.7" r="2"/><circle cx="371.7" cy="1006.7" r="2"/><circle cx="340" cy="1013.7" r="2"/><circle cx="343.3" cy="1020.8" r="2"/><circle cx="353.3" cy="1039" r="2"/><circle cx="330" cy="1051" r="2"/><circle cx="358" cy="901" r="2"/><circle cx="365" cy="870.7" r="2"/>
</g>
<text class="mn" x="350" y="847.5">98/98</text>
<text class="mn" x="335" y="863">93.5/97</text>
<text class="mn" x="328" y="882.5">99.8/99</text>
<text class="mn" x="365" y="866">100/100</text>
<text class="mn" x="351.7" y="900">100/100</text>
<text class="mn" x="351.5" y="905">96.2/96</text>
<text class="mn" x="350" y="914">93.4/98</text>
<text class="mn" x="346.7" y="918">100/100</text>
<text class="mn" x="336" y="930">99.8/100</text>
<text class="mn" x="386.7" y="939">96.5/97</text>
<text class="mn" x="373.3" y="948.5">93.8/96</text>
<text class="mn" x="372.7" y="953">100/100</text>
<text class="mn" x="353.3" y="966.5">99.4/100</text>
<text class="mn" x="365" y="971">92/99</text>
<text class="mn" x="353.3" y="976.5">99.4/100</text>
<text class="mn" x="329.3" y="987.5">98.8/100</text>
<text class="mn" x="371.7" y="1002">100/100</text>
<text class="mn" x="340" y="1009.5">96.3/96</text>
<text class="mn" x="331.7" y="1017.5">100/100</text>
<text class="mn" x="338.3" y="1024.5">99.3/96</text>
<text class="mn" x="351.7" y="1035">100/100</text>
<text class="mn" x="340" y="1044.5">96.7/99</text>
<text class="mn" x="328.3" y="1048.5">100/100</text>
<text class="mn" x="297" y="1008">98.8/100</text>
<text class="m o" x="360" y="850.1">LOC116569183</text>
<text class="m o" x="360" y="854.1">LOC116557284</text>
<text class="m o" x="360" y="858.1">LOC116557235</text>
<text class="m o" x="360" y="862.5">LOC116557273</text>
<text class="m o" x="358.3" y="866.8">LOC116558190</text>
<text class="m o" x="376.7" y="870.8">LOC116557445</text>
<text class="m o" x="376.7" y="874.1">LOC116557514</text>
<text class="m o" x="361.7" y="878.5">LOC116557466</text>
<text class="m o" x="355" y="882.5">LOC116557265</text>
<text class="m o" x="363.3" y="886.8">LOC116557711</text>
<text class="m o" x="361.7" y="890.8">LOC116557723</text>
<text class="m o" x="360" y="894.8">LOC116557697</text>
<text class="m o" x="361.7" y="898.8">LOC116557551</text>
<text class="m o" x="360" y="902.8">LOC116557541</text>
<text class="m o" x="360" y="906.8">LOC116557637</text>
<text class="m o" x="361.7" y="910.8">LOC116557736</text>
<text class="m o" x="358.3" y="915.1">LOC116557661</text>
<text class="m g" x="357.3" y="918.5">LOC108016799</text>
<text class="m g" x="357.3" y="922.8">LOC108016714</text>
<text class="m g" x="357.3" y="926.8">LOC108016722</text>
<text class="m g" x="353.5" y="930.8">LOC108016869</text>
<text class="m g" x="340" y="934.8">LOC108016698_2</text>
<text class="m g" x="342" y="938.8">LOC108016698</text>
<text class="m o" x="386.7" y="943.5">LOC116567851</text>
<text class="m o" x="381.7" y="947.5">LOC116557612</text>
<text class="m o" x="383.3" y="951.5">LOC116557352</text>
<text class="m o" x="383.3" y="955.5">LOC116557791</text>
<text class="m o" x="384" y="959.5">LOC116557561</text>
<text class="m o" x="381.7" y="964.1">LOC116557672</text>
<text class="m o" x="381.7" y="968.5">LOC116557792</text>
<text class="m g" x="368.3" y="971.8">LOC108016739</text>
<text class="m g" x="370" y="976.1">LOC108016711_1</text>
<text class="m g" x="369.3" y="980.1">LOC108016711_2</text>
<text class="m g" x="369.3" y="984.5">LOC108016712</text>
<text class="m g" x="354" y="989.5">LOC108016717</text>
<text class="m o" x="372" y="995.8">LOC116557603</text>
<text class="m o" x="386.7" y="1000.1">LOC116566405</text>
<text class="m o" x="386.7" y="1004.1">LOC116557374</text>
<text class="m o" x="400" y="1008.5">LOC116557906</text>
<text class="m o" x="376.7" y="1012.8">LOC116557529</text>
<text class="m g" x="373.3" y="1016.8">LOC108016796</text>
<text class="m g" x="366.7" y="1020.8">LOC108016790</text>
<text class="m g" x="365" y="1024.5">LOC108016371</text>
<text class="m g" x="361.7" y="1028.5">LOC118078363</text>
<text class="m o" x="385.3" y="1032.8">LOC116557394</text>
<text class="m r" x="363.3" y="1036.8">LOC108021668</text>
<text class="m r" x="356.7" y="1040.8">LOC108021669</text>
<text class="m r" x="356.7" y="1045.1">LOC108021676</text>
<text class="m o" x="363.3" y="1048.5">LOC116558139</text>
<text class="m g" x="361.7" y="1052.8">LOC108015513</text>
<text class="m r" x="370" y="1056.8">LOC108025016</text>
<text class="m c" x="327.3" y="1061.1">LOC108062902</text>
<text class="m c" x="360" y="1065.1">LOC108062907</text>
<text class="m k" x="388.3" y="1069.1">LOC108111313</text>
</g>

<!-- ===== Panel 15: ProtA/B (bottom right) ===== -->
<g id="prota-b-7">
<text class="T" x="603.3" y="830">ProtA/B</text>
<text class="L" x="502.3" y="865.3">Species</text>
<text class="S k" x="502.3" y="875.3">D.ananassae</text>
<text class="S r" x="502.3" y="885.3">D.bipectinata</text>
<text class="S o" x="502.3" y="895.3">D.m.pallens</text>
<text class="S g" x="502.3" y="905.3">D.p.nigrens</text>
<text class="S c" x="502.3" y="914.3">D.parabipectinata</text>
<text class="sc" x="554.3" y="865">0.05</text>
<path class="e" d="M541.7 867.3H567.7"/>
<g class="conn">
<path class="e" d="M515 1046V1103.7M515 1046H541.7M515 1097.7H626.3M515 1103.7H565.3M541.7 1037V1087M541.7 1037H561M541.7 1087H552.7M552.7 1083V1091.7M552.7 1083H562.3M552.7 1091.7H582M562.3 1080V1085.7M562.3 1080H563M562.3 1085.7H574.7M561 1011.7V1062.7M561 1011.7H576.7M561 1062.7H564.3M564.3 1055V1070.3M564.3 1055H575M564.3 1070.3H585M585 1067.3V1073.3M585 1067.3H588M585 1073.3H587M575 1050V1061.7M575 1050H600M575 1061.7H598.7M600 1044.6V1055.7M600 1044.6H624M600 1055.7H671.3M624 1040V1049.3M624 1040H632.3M624 1049.3H630.7M632.3 1036.7V1043.3M632.3 1036.7H648M632.3 1043.3H637.3M576.7 1001.7V1025M576.7 1001.7H582M576.7 1006.7H580.7M576.7 1012.7H579.7M576.7 1025H580M580 1019V1031M580 1019H582M580 1025H591.3M580 1031H584M582 838.3V1001.7"/>
<path class="e" d="M582 838.3H591.2M582 844.3H588.8M582 850H587.2M582 856.3H587.2M582 862.7H583.8M582 868.3H583.8M582 875H583.8M584.5 880.7V892.7M584.5 880.7H586.2M584.5 886.3H586.2M584.5 892.7H591.8M582 886H584.5M582 898.7H587.2M582 905H587.2M582 911H587.2M582 919.5H595M595 916.7V922.3M595 916.7H596.2M595 922.3H595.2M582 928.7H587.8M582 935H587.2M582 940.7H587.2M582 946.7H589.5M582 952.7H583.8M582 959H583.8M582 965H586.2M582 971H596.2M582 977H589.5M582 983.3H587.8M582 992H586M586 989V995M586 989H603.8M586 995H592.8M582 1000.7H587.8"/>
<path class="th" d="M583.2 872V900"/>
<circle cx="595" cy="919.5" r="2"/><circle cx="624" cy="1044.6" r="2"/><circle cx="600" cy="1050" r="2"/><circle cx="585" cy="1070.3" r="2"/>
</g>
<text class="n" x="593.3" y="914.7">95.8/96</text>
<text class="n" x="623.5" y="1039.5">93.5/99</text>
<text class="n" x="599.5" y="1047.5">90.2/99</text>
<text class="n" x="584" y="1067">94.8/99</text>
<text class="L c" x="591.7" y="840.3">contig_554.1</text>
<text class="L c" x="589.3" y="846.3">contig_118.6</text>
<text class="L c" x="587.7" y="852">contig_266.1</text>
<text class="L r" x="587.7" y="858.3">contig_48.11</text>
<text class="L c" x="584.3" y="864.7">contig_116.1</text>
<text class="L c" x="584.3" y="870.3">contig_271.1</text>
<text class="L r" x="584.3" y="877">contig_48.9</text>
<text class="L r" x="586.7" y="882.7">contig_48.5</text>
<text class="L r" x="586.7" y="888.3">contig_48.3</text>
<text class="L r" x="592.3" y="894.7">contig_48.4</text>
<text class="L r" x="587.7" y="900.7">contig_48.10</text>
<text class="L c" x="587.7" y="907">contig_131.7</text>
<text class="L r" x="587.7" y="913">contig_48.2</text>
<text class="L c" x="596.7" y="918.7">contig_224.3</text>
<text class="L c" x="595.7" y="924.3">contig_224.1</text>
<text class="L c" x="588.3" y="930.7">contig_271.4</text>
<text class="L r" x="587.7" y="937">contig_48.8</text>
<text class="L r" x="587.7" y="942.7">contig_48.6</text>
<text class="L r" x="590" y="948.7">contig_48.7</text>
<text class="L c" x="584.3" y="954.7">contig_271.3</text>
<text class="L r" x="584.3" y="961">contig_48.1</text>
<text class="L c" x="586.7" y="967">contig_116.3</text>
<text class="L c" x="596.7" y="973">contig_224.4</text>
<text class="L c" x="590" y="979">contig_271.2</text>
<text class="L c" x="588.3" y="985.3">contig_224.2</text>
<text class="L c" x="604.3" y="991">contig_223.1</text>
<text class="L c" x="593.3" y="997">contig_118.5</text>
<text class="L c" x="588.3" y="1002.7">contig_118.4</text>
<text class="L c" x="581" y="1008.7">contig_319.2</text>
<text class="L c" x="580" y="1014.7">contig_116.2</text>
<text class="L c" x="582.3" y="1021">contig_319.1</text>
<text class="L c" x="591.7" y="1027">contig_223.2</text>
<text class="L c" x="584.3" y="1033">contig_131.8</text>
<text class="L c" x="648.3" y="1038.7">contig_138.11</text>
<text class="L c" x="637.7" y="1045.3">contig_138.9</text>
<text class="L c" x="631" y="1051.3">contig_304.1</text>
<text class="L c" x="671.7" y="1057.7">contig_138.10</text>
<text class="L o" x="599" y="1063.7">contig_219.1</text>
<text class="L c" x="588.3" y="1069.3">contig_361.2</text>
<text class="L c" x="587.3" y="1075.3">contig_361.1</text>
<text class="L c" x="563.3" y="1082">contig_368.1</text>
<text class="L r" x="575" y="1087.7">contig_38.1</text>
<text class="L o" x="582.3" y="1093.7">contig_390.1</text>
<text class="L k" x="626.7" y="1099.7">LOC26514746</text>
<text class="L g" x="565.7" y="1105.7">contig_94.1</text>
</g>
</svg>
